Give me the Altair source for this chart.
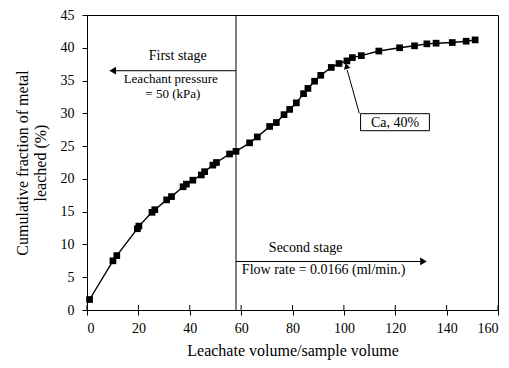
import altair as alt
import pandas as pd

# Cumulative leaching curve (Ca)
volume = [1.0, 10.1, 11.6, 19.6, 20.2, 25.3, 26.4, 31.0, 32.9, 37.4, 38.7, 41.2, 44.5,
          45.8, 49.0, 50.4, 55.5, 58.0, 63.3, 66.3, 71.1, 73.7, 76.7, 78.9, 81.5, 84.3,
          86.0, 88.6, 91.0, 95.1, 98.1, 101.2, 103.3, 106.8, 113.6, 121.7, 127.5, 132.3,
          135.9, 142.2, 147.6, 151.1]
fraction = [1.6, 7.5, 8.3, 12.4, 12.8, 14.9, 15.3, 16.8, 17.3, 18.8, 19.2, 19.8, 20.6,
            21.1, 22.1, 22.5, 23.8, 24.2, 25.5, 26.4, 28.0, 28.6, 29.8, 30.6, 31.6, 33.0,
            33.8, 34.9, 35.8, 37.0, 37.6, 38.0, 38.5, 38.8, 39.5, 40.0, 40.3, 40.6,
            40.7, 40.8, 41.0, 41.2]

x_ticks = [0, 20, 40, 60, 80, 100, 120, 140, 160]
y_ticks = [0, 5, 10, 15, 20, 25, 30, 35, 40, 45]

stage_boundary = 58
notes_text = ["First stage", "Leachant pressure", "= 50 (kPa)",
              "Second stage", "Flow rate = 0.0166 (ml/min.)"]
notes_x = [35.3, 32.6, 33.4, 85.1, 92.1]
notes_y = [38.7, 35.3, 32.9, 9.5, 6.1]
notes_size = [14, 13, 13, 14, 14]

W, H = 411, 295
FONT = "Liberation Serif"

df = pd.DataFrame({"v": volume, "f": fraction})
xs = alt.Scale(domain=[0, 160], nice=False, zero=False)
ys = alt.Scale(domain=[0, 45], nice=False, zero=False)

x_axis = alt.Axis(values=x_ticks, title="Leachate volume/sample volume", tickSize=5,
                  labelPadding=6, titlePadding=7)
y_axis = alt.Axis(values=y_ticks, title=["Cumulative fraction of metal", "leached (%)"],
                  tickSize=5, labelPadding=8, titlePadding=12, labelOverlap=False)


def qx(field):
    return alt.X(field, scale=xs, axis=x_axis)


def qy(field):
    return alt.Y(field, scale=ys, axis=y_axis)


base = alt.Chart(df)
curve = base.mark_line(color="black", strokeWidth=1.4).encode(x=qx("v:Q"), y=qy("f:Q"))
markers = base.mark_square(size=45, color="black", opacity=1).encode(x=qx("v:Q"), y=qy("f:Q"))

# inner half of the crossing x ticks
inner_ticks = alt.Chart(pd.DataFrame({"v": x_ticks})).mark_rule(
    color="black", strokeWidth=1).encode(
    x=qx("v:Q"), y=alt.value(H), y2=alt.value(H - 5))

# stage boundary
boundary = alt.Chart(pd.DataFrame({"v": [stage_boundary], "y0": [0], "y1": [45]})).mark_rule(
    color="black", strokeWidth=1).encode(
    x=qx("v:Q"), y=qy("y0:Q"), y2="y1:Q")

# stage arrows
arrows = pd.DataFrame({"x0": [stage_boundary, stage_boundary], "x1": [10.5, 130.5],
                       "y": [36.5, 7.4], "shape": ["triangle-left", "triangle-right"],
                       "hx": [10.0, 131.0]})
arrow_lines = alt.Chart(arrows).mark_rule(color="black", strokeWidth=1).encode(
    x=qx("x0:Q"), x2="x1:Q", y=qy("y:Q"))
arrow_heads = alt.Chart(arrows).mark_point(filled=True, color="black", opacity=1, size=60).encode(
    x=qx("hx:Q"), y=qy("y:Q"), shape=alt.Shape("shape:N", scale=None))

notes = alt.Chart(pd.DataFrame({"t": notes_text, "x": notes_x, "y": notes_y,
                                "s": notes_size})).mark_text(
    font=FONT, color="black").encode(
    x=qx("x:Q"), y=qy("y:Q"), text="t:N", size=alt.Size("s:Q", scale=None))

# Ca callout
ca_box = alt.Chart(pd.DataFrame({"x0": [106.5], "x1": [133.3], "y0": [27.35], "y1": [29.95]})).mark_rect(
    fill="white", stroke="black", strokeWidth=1).encode(
    x=qx("x0:Q"), x2="x1:Q", y=qy("y0:Q"), y2="y1:Q")
ca_text = alt.Chart(pd.DataFrame({"t": ["Ca, 40%"], "x": [119.9], "y": [28.6]})).mark_text(
    font=FONT, fontSize=14, color="black").encode(
    x=qx("x:Q"), y=qy("y:Q"), text="t:N")
ca_line = alt.Chart(pd.DataFrame({"x0": [106.0], "x1": [101.3], "y0": [30.0], "y1": [36.6]})).mark_rule(
    color="black", strokeWidth=1).encode(
    x=qx("x0:Q"), x2="x1:Q", y=qy("y0:Q"), y2="y1:Q")
ca_head = alt.Chart(pd.DataFrame({"x": [101.0], "y": [37.2]})).mark_point(
    shape="triangle-up", filled=True, color="black", opacity=1, size=45, angle=345).encode(
    x=qx("x:Q"), y=qy("y:Q"))

chart = alt.layer(
    curve, boundary, inner_ticks, arrow_lines, arrow_heads, notes,
    markers, ca_line, ca_head, ca_box, ca_text
).properties(
    width=W, height=H,
    autosize=alt.AutoSizeParams(type="none"),
    padding={"left": 87, "top": 15, "right": 11, "bottom": 58},
    background="white",
).configure_view(
    stroke="black", strokeWidth=1
).configure_axis(
    grid=False, domainColor="black", domainWidth=1, tickColor="black", tickWidth=1,
    labelFont=FONT, labelFontSize=14, labelColor="black",
    titleFont=FONT, titleFontSize=16, titleColor="black", titleFontWeight="normal",
)

chart.save("out.html", embed_options={"renderer": "svg", "actions": False})
